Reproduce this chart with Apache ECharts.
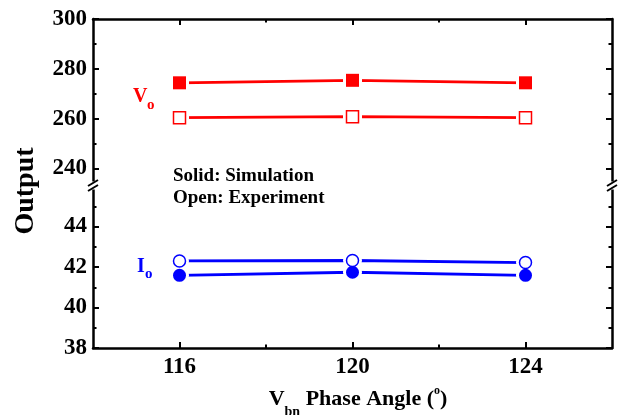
<!DOCTYPE html>
<html>
<head>
<meta charset="utf-8">
<script src="https://cdn.jsdelivr.net/npm/echarts@6/dist/echarts.min.js"></script>
<style>html,body{margin:0;padding:0;background:#fff;}#c{width:621px;height:415px;}</style>
</head>
<body>
<div id="c"></div>
<script>
// ---- data ----
const angles = [116, 120, 124];
const voSim = [274.4, 275.4, 274.4];
const voExp = [260.4, 260.8, 260.4];
const ioSim = [41.59, 41.74, 41.59];
const ioExp = [42.30, 42.32, 42.22];
const xMajor = [116, 120, 124];
const xMinor = [118, 122];
const yUpMajor = [240, 260, 280, 300];
const yUpMinor = [250, 270, 290];
const yLowMajor = [38, 40, 42, 44];
const yLowMinor = [39, 41, 43, 45];

const FONT = '"Liberation Serif", "Times New Roman", serif';
const RED = '#ff0000', BLUE = '#0000ff';
const pairs = arr => arr.map((v, i) => [angles[i], v]);

function xAx(grid, pos, ticks, len, labels, line) {
  return {
    type: 'value', gridIndex: grid, position: pos, min: 114, max: 126,
    axisLine: {show: line, onZero: false, lineStyle: {color: '#000', width: 2.5}},
    axisTick: {show: true, inside: true, length: len, customValues: ticks, lineStyle: {color: '#000', width: 2}},
    axisLabel: labels ? {show: true, customValues: ticks, margin: 8, color: '#000', fontFamily: FONT, fontWeight: 'bold', fontSize: 23} : {show: false},
    splitLine: {show: false}
  };
}
function yAx(grid, pos, min, max, ticks, len, labels, line) {
  return {
    type: 'value', gridIndex: grid, position: pos, min: min, max: max,
    axisLine: {show: line, onZero: false, lineStyle: {color: '#000', width: 2.5}},
    axisTick: {show: true, inside: true, length: len, customValues: ticks, lineStyle: {color: '#000', width: 2}},
    axisLabel: labels ? {show: true, customValues: ticks, margin: 6, color: '#000', fontFamily: FONT, fontWeight: 'bold', fontSize: 23} : {show: false},
    splitLine: {show: false}
  };
}

const sets = [
  {data: voSim, x: 0, y: 0, color: RED, symbol: 'rect', filled: true},
  {data: voExp, x: 0, y: 0, color: RED, symbol: 'rect', filled: false},
  {data: ioSim, x: 2, y: 4, color: BLUE, symbol: 'circle', filled: true},
  {data: ioExp, x: 2, y: 4, color: BLUE, symbol: 'circle', filled: false}
];
const series = [];
sets.forEach(s => series.push({
  type: 'line', z: 2, xAxisIndex: s.x, yAxisIndex: s.y, data: pairs(s.data), symbol: 'none',
  lineStyle: {color: s.color, width: 2.8}, silent: true
}));
sets.forEach(s => series.push({
  type: 'scatter', z: 3, xAxisIndex: s.x, yAxisIndex: s.y, data: pairs(s.data), symbol: s.symbol,
  symbolSize: 19, itemStyle: {color: '#ffffff', opacity: 1}, silent: true
}));
sets.forEach(s => series.push({
  type: 'scatter', z: 4, xAxisIndex: s.x, yAxisIndex: s.y, data: pairs(s.data), symbol: s.symbol,
  symbolSize: s.filled ? 13 : 12,
  itemStyle: s.filled ? {color: s.color, opacity: 1} : {color: '#fff', borderColor: s.color, borderWidth: 1.5, opacity: 1},
  silent: true
}));

// ---- text helpers ----
const mctx = document.createElement('canvas').getContext('2d');
function tw(text, size) { mctx.font = 'bold ' + size + 'px ' + FONT; return mctx.measureText(text).width; }
function txt(text, x, y, size, color, align, rot) {
  const el = {type: 'text', x: x, y: y, silent: true, z: 10,
    style: {text: text, font: 'bold ' + size + 'px ' + FONT, fill: color,
      align: align || 'left', verticalAlign: 'middle', textAlign: align || 'left', textVerticalAlign: 'middle'}};
  if (rot) el.rotation = rot;
  return el;
}
function seq(parts, cx, cy) {
  const total = parts.reduce((a, p) => a + tw(p.t, p.s), 0);
  let x = cx - total / 2;
  const out = [];
  parts.forEach(p => { out.push(txt(p.t, x, cy + (p.dy || 0), p.s, p.c || '#000')); x += tw(p.t, p.s); });
  return out;
}

const graphics = [];
graphics.push(txt('Output', 26, 191, 28, '#000', 'center', Math.PI / 2));
graphics.push(txt('V', 133, 97, 20, RED));
graphics.push(txt('o', 147, 105, 15, RED));
graphics.push(txt('I', 137, 267, 20, BLUE));
graphics.push(txt('o', 145, 274, 15, BLUE));
graphics.push(txt('Solid: Simulation', 173, 176, 19, '#000'));
graphics.push(txt('Open: Experiment', 173, 198, 19, '#000'));
seq([
  {t: 'V', s: 22},
  {t: 'bn', s: 14, dy: 13},
  {t: ' Phase Angle (', s: 22},
  {t: 'o', s: 12, dy: -8},
  {t: ')', s: 22}
], 358, 399).forEach(e => graphics.push(e));
// axis break marks
[93, 612].forEach(x0 => {
  graphics.push({type: 'rect', silent: true, z: 10, shape: {x: x0 - 3, y: 181.5, width: 6, height: 8}, style: {fill: '#fff'}});
  graphics.push({type: 'line', silent: true, z: 11, shape: {x1: x0 - 5, y1: 186, x2: x0 + 5, y2: 180}, style: {stroke: '#000', lineWidth: 2}});
  graphics.push({type: 'line', silent: true, z: 11, shape: {x1: x0 - 5, y1: 191, x2: x0 + 5, y2: 185}, style: {stroke: '#000', lineWidth: 2}});
});

const chart = echarts.init(document.getElementById('c'), null, {renderer: 'canvas'});
chart.setOption({
  animation: false,
  backgroundColor: '#fff',
  grid: [
    {left: 93, right: 9, top: 19, height: 164.5},
    {left: 93, right: 9, top: 186, height: 162}
  ],
  xAxis: [
    xAx(0, 'top', xMajor, 6, false, true),
    xAx(0, 'top', xMinor, 3.5, false, false),
    xAx(1, 'bottom', xMajor, 6, true, true),
    xAx(1, 'bottom', xMinor, 3.5, false, false)
  ],
  yAxis: [
    yAx(0, 'left', 234, 300, yUpMajor, 6, true, true),
    yAx(0, 'left', 234, 300, yUpMinor, 3.5, false, false),
    yAx(0, 'right', 234, 300, yUpMajor, 6, false, true),
    yAx(0, 'right', 234, 300, yUpMinor, 3.5, false, false),
    yAx(1, 'left', 38, 46, yLowMajor, 6, true, true),
    yAx(1, 'left', 38, 46, yLowMinor, 3.5, false, false),
    yAx(1, 'right', 38, 46, yLowMajor, 6, false, true),
    yAx(1, 'right', 38, 46, yLowMinor, 3.5, false, false)
  ],
  series: series,
  graphic: graphics
});
</script>
</body>
</html>
